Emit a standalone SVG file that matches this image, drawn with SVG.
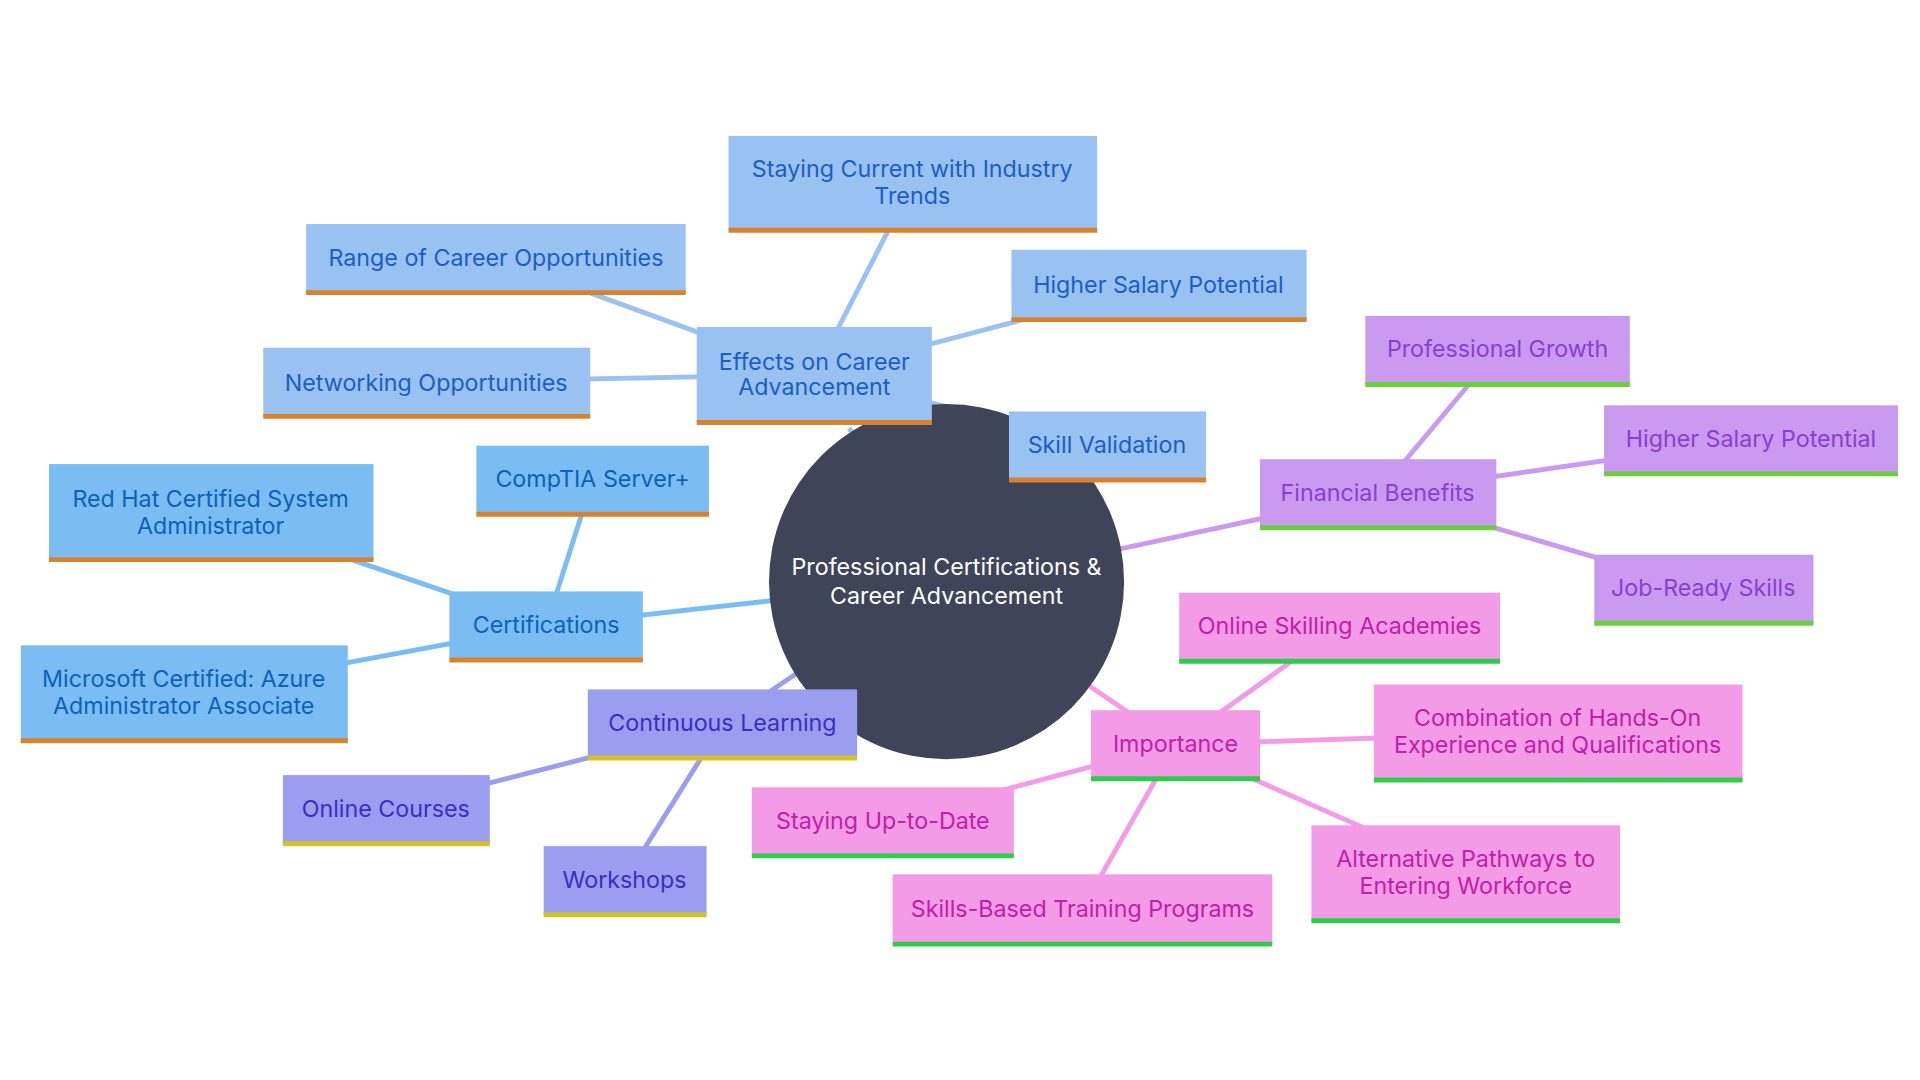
<svg xmlns="http://www.w3.org/2000/svg" width="1920" height="1080" viewBox="0 0 1920 1080">
<style>
text{font-family:Inter,"Noto Sans",sans-serif;font-size:19px;text-anchor:middle;dominant-baseline:central}
.e rect{fill:#99c1f1}.e text{fill:#1c5fc0}.e line{stroke:#d9822b}
.c rect{fill:#7bbdf2}.c text{fill:#0d62b8}.c line{stroke:#d9822b}
.l rect{fill:#9b9ef0}.l text{fill:#3a2fbf}.l line{stroke:#d4c22a}
.f rect{fill:#c99af0}.f text{fill:#8a3fcf}.f line{stroke:#6bcf3a}
.i rect{fill:#f39be6}.i text{fill:#c020a8}.i line{stroke:#2ecc4a}
g line{stroke-width:4}
#edges line{stroke-width:4;fill:none}
</style>
<rect width="1920" height="1080" fill="#fff"/>
<g transform="scale(1.2245)">
<g id="edges">
<g stroke="#99c1f1">
<line x1="693" y1="350" x2="730" y2="380"/>
<line x1="665" y1="306" x2="745" y2="150"/>
<line x1="665" y1="306" x2="405" y2="211"/>
<line x1="665" y1="306" x2="946" y2="232"/>
<line x1="665" y1="306" x2="348" y2="312"/>
<line x1="665" y1="306" x2="904" y2="364"/>
</g>
<g stroke="#7bbdf2">
<line x1="446" y1="511" x2="680" y2="485"/>
<line x1="446" y1="511" x2="484" y2="392"/>
<line x1="446" y1="511" x2="172" y2="418"/>
<line x1="446" y1="511" x2="150" y2="566"/>
</g>
<g stroke="#9b9ef0">
<line x1="590" y1="591" x2="680" y2="530"/>
<line x1="590" y1="591" x2="315" y2="661"/>
<line x1="590" y1="591" x2="510" y2="719"/>
</g>
<g stroke="#c99af0">
<line x1="1125" y1="403" x2="860" y2="460"/>
<line x1="1125" y1="403" x2="1223" y2="286"/>
<line x1="1125" y1="403" x2="1430" y2="359"/>
<line x1="1125" y1="403" x2="1391" y2="481"/>
</g>
<g stroke="#f39be6">
<line x1="960" y1="608" x2="860" y2="540"/>
<line x1="960" y1="608" x2="1094" y2="512"/>
<line x1="960" y1="608" x2="1272" y2="598"/>
<line x1="960" y1="608" x2="721" y2="671"/>
<line x1="960" y1="608" x2="884" y2="742"/>
<line x1="960" y1="608" x2="1197" y2="713"/>
</g>
</g>
<g id="center"><circle cx="773" cy="475" r="145" fill="#404459"/>
<text x="773" y="463" fill="#fff">Professional Certifications &amp;</text><text x="773" y="486" fill="#fff">Career Advancement</text></g>

<g id="n_effects" class="e"><rect x="569" y="267" width="192" height="78"/><line x1="569" y1="345" x2="761" y2="345"/><text x="665" y="295">Effects on Career</text><text x="665" y="316">Advancement</text></g>
<g id="n_trends" class="e"><rect x="595" y="111" width="301" height="77"/><line x1="595" y1="188" x2="896" y2="188"/><text x="745" y="138">Staying Current with Industry</text><text x="745" y="160">Trends</text></g>
<g id="n_range" class="e"><rect x="250" y="183" width="310" height="56"/><line x1="250" y1="239" x2="560" y2="239"/><text x="405" y="210">Range of Career Opportunities</text></g>
<g id="n_salary1" class="e"><rect x="826" y="204" width="241" height="57"/><line x1="826" y1="261" x2="1067" y2="261"/><text x="946" y="232">Higher Salary Potential</text></g>
<g id="n_network" class="e"><rect x="215" y="284" width="267" height="56"/><line x1="215" y1="340" x2="482" y2="340"/><text x="348" y="312">Networking Opportunities</text></g>
<g id="n_skillval" class="e"><rect x="824" y="336" width="161" height="56"/><line x1="824" y1="392" x2="985" y2="392"/><text x="904" y="363">Skill Validation</text></g>

<g id="n_cert" class="c"><rect x="367" y="483" width="158" height="56"/><line x1="367" y1="539" x2="525" y2="539"/><text x="446" y="510">Certifications</text></g>
<g id="n_comptia" class="c"><rect x="389" y="364" width="190" height="56"/><line x1="389" y1="420" x2="579" y2="420"/><text x="484" y="391">CompTIA Server+</text></g>
<g id="n_redhat" class="c"><rect x="40" y="379" width="265" height="78"/><line x1="40" y1="457" x2="305" y2="457"/><text x="172" y="407">Red Hat Certified System</text><text x="172" y="429">Administrator</text></g>
<g id="n_ms" class="c"><rect x="17" y="527" width="267" height="78"/><line x1="17" y1="605" x2="284" y2="605"/><text x="150" y="554">Microsoft Certified: Azure</text><text x="150" y="576">Administrator Associate</text></g>

<g id="n_cl" class="l"><rect x="480" y="563" width="220" height="56"/><line x1="480" y1="619" x2="700" y2="619"/><text x="590" y="590">Continuous Learning</text></g>
<g id="n_oc" class="l"><rect x="231" y="633" width="169" height="56"/><line x1="231" y1="689" x2="400" y2="689"/><text x="315" y="660">Online Courses</text></g>
<g id="n_ws" class="l"><rect x="444" y="691" width="133" height="56"/><line x1="444" y1="747" x2="577" y2="747"/><text x="510" y="718">Workshops</text></g>

<g id="n_fin" class="f"><rect x="1029" y="375" width="193" height="56"/><line x1="1029" y1="431" x2="1222" y2="431"/><text x="1125" y="402">Financial Benefits</text></g>
<g id="n_pg" class="f"><rect x="1115" y="258" width="216" height="56"/><line x1="1115" y1="314" x2="1331" y2="314"/><text x="1223" y="285">Professional Growth</text></g>
<g id="n_salary2" class="f"><rect x="1310" y="331" width="240" height="56"/><line x1="1310" y1="387" x2="1550" y2="387"/><text x="1430" y="358">Higher Salary Potential</text></g>
<g id="n_jrs" class="f"><rect x="1302" y="453" width="179" height="56"/><line x1="1302" y1="509" x2="1481" y2="509"/><text x="1391" y="480">Job-Ready Skills</text></g>

<g id="n_imp" class="i"><rect x="891" y="580" width="138" height="56"/><line x1="891" y1="636" x2="1029" y2="636"/><text x="960" y="607">Importance</text></g>
<g id="n_osa" class="i"><rect x="963" y="484" width="262" height="56"/><line x1="963" y1="540" x2="1225" y2="540"/><text x="1094" y="511">Online Skilling Academies</text></g>
<g id="n_comb" class="i"><rect x="1122" y="559" width="301" height="78"/><line x1="1122" y1="637" x2="1423" y2="637"/><text x="1272" y="586">Combination of Hands-On</text><text x="1272" y="608">Experience and Qualifications</text></g>
<g id="n_sut" class="i"><rect x="614" y="643" width="214" height="56"/><line x1="614" y1="699" x2="828" y2="699"/><text x="721" y="670">Staying Up-to-Date</text></g>
<g id="n_sbt" class="i"><rect x="729" y="714" width="310" height="57"/><line x1="729" y1="771" x2="1039" y2="771"/><text x="884" y="742">Skills-Based Training Programs</text></g>
<g id="n_alt" class="i"><rect x="1071" y="674" width="252" height="78"/><line x1="1071" y1="752" x2="1323" y2="752"/><text x="1197" y="701">Alternative Pathways to</text><text x="1197" y="723">Entering Workforce</text></g>
</g>
</svg>
